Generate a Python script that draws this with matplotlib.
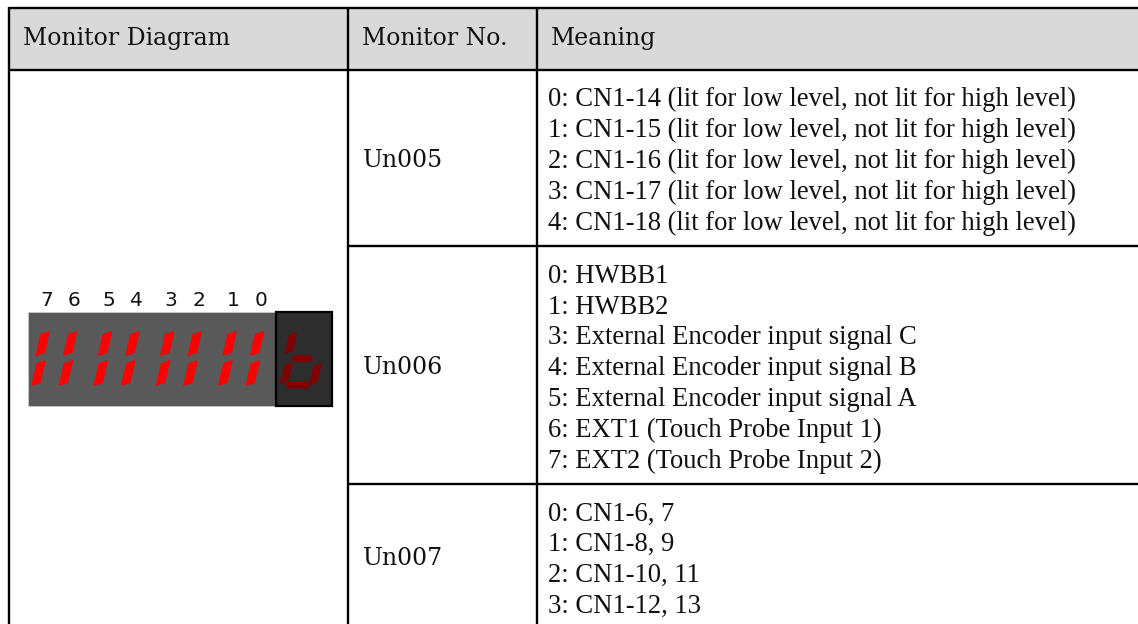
import matplotlib.pyplot as plt
from matplotlib.patches import Rectangle, Polygon

HEADERS = ["Monitor Diagram", "Monitor No.", "Meaning"]
MONITOR_NO = ["Un005", "Un006", "Un007"]
MEANING_UN005 = [
    "0: CN1-14 (lit for low level, not lit for high level)",
    "1: CN1-15 (lit for low level, not lit for high level)",
    "2: CN1-16 (lit for low level, not lit for high level)",
    "3: CN1-17 (lit for low level, not lit for high level)",
    "4: CN1-18 (lit for low level, not lit for high level)",
]
MEANING_UN006 = [
    "0: HWBB1",
    "1: HWBB2",
    "3: External Encoder input signal C",
    "4: External Encoder input signal B",
    "5: External Encoder input signal A",
    "6: EXT1 (Touch Probe Input 1)",
    "7: EXT2 (Touch Probe Input 2)",
]
MEANING_UN007 = [
    "0: CN1-6, 7",
    "1: CN1-8, 9",
    "2: CN1-10, 11",
    "3: CN1-12, 13",
]
BIT_LABELS = ["7", "6", "5", "4", "3", "2", "1", "0"]
LIT_BITS = [1, 1, 1, 1, 1, 1, 1, 1]
LAST_DIGIT = "b"

W, H = 1138, 624
LW = 1.7  # pt, table rules
BODY_FONT = "Liberation Serif"
HEAD_FONT = "DejaVu Serif"
TXT = "#111111"

# segment letters lit for the single 7-seg digit
SEG_MAP = {"b": "cdefg"}


def vseg(xt, yt, xb, yb, w):
    # slanted vertical bar, angled ends
    h = w / 2
    return [(xt - h, yt + 3), (xt + h, yt), (xb + h, yb - 3), (xb - h, yb)]


def hseg(xl, xr, y, w):
    h = w / 2
    return [(xl, y), (xl + h, y - h), (xr - h, y - h),
            (xr, y), (xr - h, y + h), (xl + h, y + h)]


def main():
    fig = plt.figure(figsize=(W / 100, H / 100), dpi=100)
    ax = fig.add_axes([0, 0, 1, 1])
    ax.set_xlim(0, W)
    ax.set_ylim(H, 0)
    ax.axis("off")

    meanings = [MEANING_UN005, MEANING_UN006, MEANING_UN007]
    spacing = 30.8
    pad_top, pad_bot = 36.5, 16.5

    # row layout from line counts
    col_x = [9.5, 348.5, 537]
    top, head_b = 7.5, 70
    row_tops, row_bots = [], []
    y = head_b
    for lines in meanings:
        row_tops.append(y)
        y = y + pad_top + (len(lines) - 1) * spacing + pad_bot
        row_bots.append(y)

    ax.add_patch(Rectangle((col_x[0], top), W - col_x[0] + 5, head_b - top,
                           facecolor="#d9d9d9", edgecolor="none"))
    for x in col_x:
        ax.plot([x, x], [top - 1, H + 5], color="black", lw=LW,
                solid_capstyle="butt")
    for y in [top, head_b] + row_bots[:-1]:
        x0 = col_x[0] if y in (top, head_b) else col_x[1]
        ax.plot([x0, W + 5], [y, y], color="black", lw=LW,
                solid_capstyle="butt")

    # header
    for x, t in zip(col_x, HEADERS):
        ax.text(x + 14, 45, t, family=HEAD_FONT, fontsize=17,
                va="baseline", ha="left", color=TXT)

    # rows
    for i, (no, lines) in enumerate(zip(MONITOR_NO, meanings)):
        t0, t1 = row_tops[i], row_bots[i]
        ax.text(col_x[1] + 14, (t0 + t1) / 2 + 8.5, no, family=HEAD_FONT,
                fontsize=17, va="baseline", ha="left", color=TXT)
        for k, ln in enumerate(lines):
            ax.text(col_x[2] + 11, t0 + pad_top + k * spacing, ln,
                    family=BODY_FONT, fontsize=19.2, va="baseline",
                    ha="left", color=TXT)

    # monitor diagram: 8 bit digits + one 7-seg digit
    ax.add_patch(Rectangle((28, 312), 248, 94, facecolor="#595959",
                           edgecolor="#c8c8c8", lw=0.6))
    ax.add_patch(Rectangle((276, 312), 56, 94, facecolor="#2d2d2d",
                           edgecolor="black", lw=1.6))
    for i, (lab, on) in enumerate(zip(BIT_LABELS, LIT_BITS)):
        cx = 42.7 + i * 27.5 + (i // 2) * 7.3
        ax.text(cx + 4, 300, lab, family="DejaVu Sans", fontsize=14.5,
                ha="center", va="center", color=TXT)
        if on:
            ax.add_patch(Polygon(vseg(cx + 2.5, 331, cx - 2.5, 356, 9.5),
                                 closed=True, facecolor="#ff0000",
                                 edgecolor="none"))
            ax.add_patch(Polygon(vseg(cx - 1.5, 360, cx - 7, 386, 9.5),
                                 closed=True, facecolor="#ff0000",
                                 edgecolor="none"))

    x0, y0 = 282, 332
    segs = {
        "f": vseg(x0 + 11, y0, x0 + 7, y0 + 22, 8.5),
        "e": vseg(x0 + 7, y0 + 30, x0 + 2, y0 + 52, 8.5),
        "c": vseg(x0 + 36, y0 + 31, x0 + 31, y0 + 53, 8.5),
        "g": hseg(x0 + 9, x0 + 31, y0 + 26.5, 7),
        "d": hseg(x0 + 3, x0 + 29, y0 + 53, 7),
    }
    for s in SEG_MAP[LAST_DIGIT]:
        ax.add_patch(Polygon(segs[s], closed=True, facecolor="#800000",
                             edgecolor="none"))

    fig.savefig("out.png", dpi=100)


if __name__ == '__main__':
    main()
